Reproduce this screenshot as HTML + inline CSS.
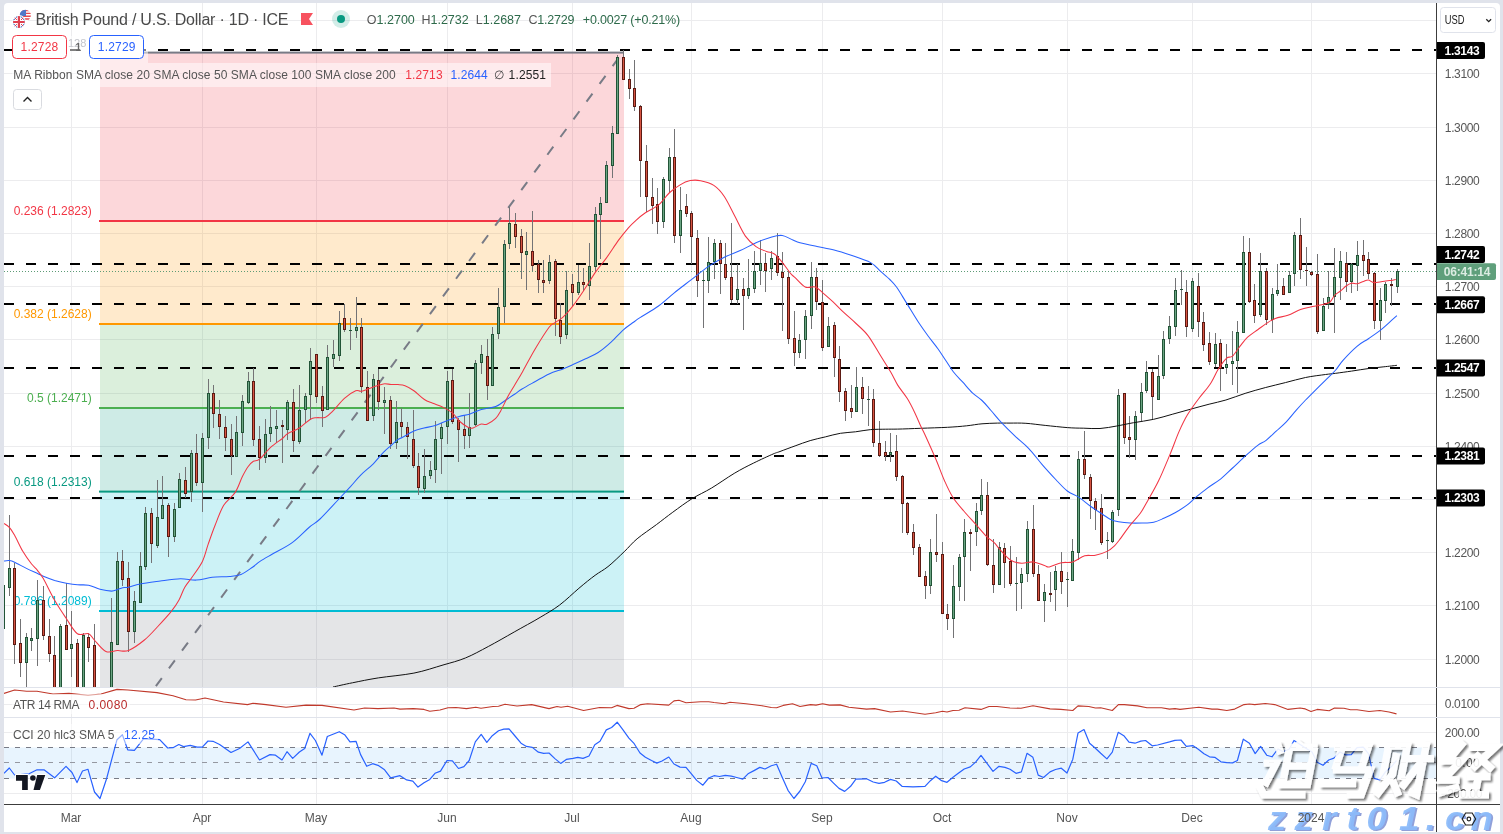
<!DOCTYPE html>
<html><head><meta charset="utf-8"><title>GBPUSD chart</title>
<style>
html,body{margin:0;padding:0;background:#e0e3eb;}
body{width:1503px;height:834px;overflow:hidden;position:relative;font-family:"Liberation Sans",sans-serif;}
#bg{position:absolute;left:4px;top:3px;width:1496px;height:829px;background:#fff;border-radius:4px 4px 0 0;}
</style></head><body>
<div id="bg"></div>
<svg width="1503" height="834" viewBox="0 0 1503 834" style="position:absolute;left:0;top:0;will-change:transform" shape-rendering="auto">
<defs>
<clipPath id="cm"><rect x="4" y="3" width="1432" height="684"/></clipPath>
<clipPath id="ca"><rect x="4" y="688" width="1432" height="29"/></clipPath>
<clipPath id="cc"><rect x="4" y="718" width="1432" height="86"/></clipPath>
<filter id="sh" x="-10%" y="-10%" width="130%" height="130%"><feGaussianBlur in="SourceAlpha" stdDeviation="1" result="b"/><feOffset in="b" dx="2" dy="2" result="o"/><feComponentTransfer in="o" result="o2"><feFuncA type="linear" slope="0.6"/></feComponentTransfer><feMerge><feMergeNode in="o2"/><feMergeNode in="SourceGraphic"/></feMerge></filter>
</defs>
<path d="M71.5 3V804M202.5 3V804M316.5 3V804M447.5 3V804M572.5 3V804M691.5 3V804M822.5 3V804M942.5 3V804M1067.5 3V804M1192.5 3V804M1311.5 3V804M4 659.5H1436M4 605.5H1436M4 552.5H1436M4 499.5H1436M4 446.5H1436M4 393.5H1436M4 339.5H1436M4 286.5H1436M4 233.5H1436M4 180.5H1436M4 127.5H1436M4 73.5H1436M4 20.5H1436M4 704.5H1436M4 732.5H1436M4 793.5H1436" stroke="#ececee" stroke-width="1" fill="none" shape-rendering="crispEdges"/>
<g clip-path="url(#cm)">
<rect x="100" y="52.5" width="524" height="168.5" fill="rgba(242,54,69,0.2)"/>
<rect x="100" y="221" width="524" height="103" fill="rgba(255,152,0,0.2)"/>
<rect x="100" y="324" width="524" height="84" fill="rgba(76,175,80,0.2)"/>
<rect x="100" y="408" width="524" height="83.5" fill="rgba(8,153,129,0.2)"/>
<rect x="100" y="491.5" width="524" height="119.5" fill="rgba(0,188,212,0.2)"/>
<rect x="100" y="611" width="524" height="153" fill="rgba(120,123,134,0.2)"/>
<rect x="99" y="51.6" width="525" height="2" fill="#787b86"/>
<rect x="99" y="220" width="525" height="2" fill="#f23645"/>
<rect x="99" y="323" width="525" height="2" fill="#ff9800"/>
<rect x="99" y="407" width="525" height="2" fill="#4caf50"/>
<rect x="99" y="490.6" width="525" height="2" fill="#089981"/>
<rect x="99" y="610" width="525" height="2" fill="#00bcd4"/>
<text x="91.7" y="215" font-size="12" fill="#f23645" text-anchor="end" style="font-family:'Liberation Sans',sans-serif">0.236 (1.2823)</text>
<text x="91.7" y="318" font-size="12" fill="#ff9800" text-anchor="end" style="font-family:'Liberation Sans',sans-serif">0.382 (1.2628)</text>
<text x="91.7" y="402" font-size="12" fill="#4caf50" text-anchor="end" style="font-family:'Liberation Sans',sans-serif">0.5 (1.2471)</text>
<text x="91.7" y="486" font-size="12" fill="#089981" text-anchor="end" style="font-family:'Liberation Sans',sans-serif">0.618 (1.2313)</text>
<text x="91.7" y="605.3" font-size="12" fill="#00bcd4" text-anchor="end" style="font-family:'Liberation Sans',sans-serif">0.786 (1.2089)</text>
<path d="M155.9 686.1L622.7 52.5" stroke="#787b86" stroke-width="2" stroke-dasharray="10 12" fill="none"/>
<path d="M4 271.5H1436" stroke="#5d9b76" stroke-width="1" stroke-dasharray="1 2" shape-rendering="crispEdges"/>
<path d="M4 50H1436" stroke="#000" stroke-width="2" stroke-dasharray="10 12" shape-rendering="crispEdges"/>
<path d="M4 264H1436" stroke="#000" stroke-width="2" stroke-dasharray="10 12" shape-rendering="crispEdges"/>
<path d="M4 304H1436" stroke="#000" stroke-width="2" stroke-dasharray="10 12" shape-rendering="crispEdges"/>
<path d="M4 368H1436" stroke="#000" stroke-width="2" stroke-dasharray="10 12" shape-rendering="crispEdges"/>
<path d="M4 456H1436" stroke="#000" stroke-width="2" stroke-dasharray="10 12" shape-rendering="crispEdges"/>
<path d="M4 498H1436" stroke="#000" stroke-width="2" stroke-dasharray="10 12" shape-rendering="crispEdges"/>
<path d="M9.5 515V568M9.5 588V596M14.5 563V568M14.5 645V664M20.5 619V643M20.5 663V677M26.5 633V637M26.5 663V695M31.5 628V638M31.5 641V651M37.5 580V600M37.5 639V666M43.5 586V600M43.5 636V640M49.5 619V636M49.5 654V662M54.5 636V655M60.5 624V626M66.5 583V625M71.5 611V644M71.5 649V677M77.5 639V643M83.5 633V635M88.5 633V637M88.5 648V662M94.5 624V645M111.5 598V642M117.5 552V561M122.5 550V561M122.5 580V586M128.5 562V578M128.5 632V652M134.5 591V601M134.5 632V643M140.5 552V566M145.5 507V513M145.5 567V570M151.5 508V513M151.5 544V563M157.5 480V517M157.5 546V548M162.5 476V505M168.5 503V505M168.5 537V557M174.5 503V509M174.5 537V542M179.5 473V479M185.5 467V480M185.5 494V498M191.5 450V453M191.5 492V502M196.5 434V453M196.5 483V486M202.5 433V438M202.5 483V512M208.5 379V393M208.5 438V449M213.5 385V393M213.5 414V428M219.5 400V414M219.5 427V439M225.5 416V427M225.5 438V451M231.5 424V439M231.5 456V475M236.5 416V432M242.5 395V401M242.5 433V446M248.5 372V381M248.5 403V404M253.5 368V381M253.5 440V446M259.5 426V439M259.5 458V470M265.5 419V434M265.5 458V463M270.5 406V427M270.5 434V442M276.5 410V426M276.5 429V443M282.5 420V425M282.5 427V463M287.5 400V402M287.5 430V440M293.5 389V402M293.5 441V452M299.5 385V410M299.5 442V444M305.5 393V396M305.5 410V423M310.5 348V361M310.5 395V420M316.5 397V403M322.5 386V396M322.5 411V427M327.5 345V357M333.5 340V354M333.5 359V367M339.5 311V323M339.5 356V361M344.5 304V318M344.5 330V332M350.5 318V330M350.5 331V350M356.5 297V327M356.5 331V338M361.5 318V327M361.5 387V393M367.5 371V387M373.5 374V379M373.5 416V421M378.5 369V380M378.5 402V410M384.5 387V400M384.5 403V434M390.5 396V400M390.5 444V449M396.5 401V422M396.5 443V449M401.5 408V422M401.5 427V437M407.5 422V427M407.5 437V459M413.5 410V439M413.5 466V468M418.5 453V466M418.5 488V495M424.5 449V476M424.5 489V493M430.5 461V470M430.5 476V479M435.5 421V439M435.5 470V483M441.5 423V427M441.5 439V474M447.5 371V381M447.5 427V444M452.5 369V380M452.5 422V424M458.5 418V420M458.5 430V462M464.5 415V429M464.5 436V449M469.5 393V427M469.5 436V448M475.5 360V363M475.5 425V426M481.5 345V354M481.5 363V374M487.5 339V356M487.5 386V400M492.5 327V334M498.5 288V307M498.5 334V339M504.5 240V244M504.5 307V323M509.5 207V223M509.5 244V249M515.5 213V224M515.5 237V248M521.5 229V236M521.5 253V279M526.5 232V251M526.5 255V290M532.5 211V251M532.5 266V271M538.5 260V264M538.5 280V293M543.5 260V280M543.5 283V293M549.5 255V262M549.5 281V284M555.5 259V261M555.5 319V336M560.5 303V320M560.5 337V344M566.5 271V290M566.5 335V339M572.5 274V284M572.5 293V307M578.5 265V282M578.5 293V295M583.5 268V282M583.5 285V291M589.5 243V266M589.5 286V300M595.5 207V214M595.5 267V271M600.5 197V203M600.5 215V259M606.5 161V165M612.5 126V133M612.5 166V178M617.5 55V57M623.5 50V57M629.5 69V79M629.5 89V99M634.5 60V88M634.5 107V111M640.5 105V106M640.5 161V197M646.5 145V161M646.5 197V212M652.5 178V197M652.5 206V224M657.5 188V204M657.5 222V234M663.5 177V179M663.5 222V228M669.5 148V157M669.5 181V193M674.5 129V157M674.5 236V243M680.5 187V210M680.5 236V253M686.5 194V206M686.5 214V217M691.5 211V213M691.5 237V264M697.5 230V238M697.5 281V297M703.5 272V280M703.5 281V328M708.5 237V262M708.5 281V293M714.5 239V243M714.5 262V279M720.5 240V243M720.5 264V294M725.5 243V264M725.5 278V280M731.5 223V277M731.5 300V303M737.5 264V289M737.5 300V304M743.5 278V289M743.5 296V330M748.5 259V288M748.5 296V299M754.5 251V271M754.5 289V293M760.5 240V263M760.5 271V285M765.5 253V263M765.5 271V292M771.5 251V258M771.5 269V280M777.5 233V256M777.5 273V276M782.5 252V272M782.5 278V331M788.5 271V277M788.5 339V344M794.5 311V338M794.5 353V366M799.5 334V340M799.5 353V358M805.5 310V316M805.5 340V359M811.5 262V277M811.5 316V329M816.5 268V277M816.5 302V310M822.5 280V302M822.5 348V351M828.5 317V326M834.5 322V325M834.5 358V377M839.5 346V359M839.5 392V402M845.5 388V391M845.5 411V421M851.5 385V408M851.5 412V418M856.5 367V387M862.5 377V387M862.5 399V414M868.5 386V399M868.5 400V426M873.5 389V399M873.5 443V447M879.5 421V443M879.5 456V457M885.5 441V452M885.5 456V461M890.5 433V452M890.5 455V462M896.5 435V451M896.5 477V481M902.5 475V476M902.5 504V533M907.5 502V503M907.5 533V535M913.5 524V532M913.5 548V555M919.5 544V547M925.5 571V576M925.5 586V599M930.5 539V552M930.5 586V594M936.5 514V552M936.5 555V562M942.5 542V554M947.5 604V614M947.5 619V630M953.5 565V586M953.5 619V638M959.5 554V557M959.5 587V601M964.5 519V532M964.5 557V601M970.5 529V532M970.5 534V571M976.5 503V511M976.5 532V546M981.5 479V495M981.5 511V515M987.5 482V495M987.5 565V566M993.5 539V565M993.5 585V593M999.5 542V547M1004.5 543V548M1004.5 563V588M1010.5 546V561M1010.5 584V586M1016.5 557V583M1016.5 584V611M1021.5 568V574M1021.5 583V609M1027.5 521V529M1027.5 574V582M1033.5 505V529M1033.5 574V577M1038.5 565V574M1044.5 584V592M1044.5 601V622M1050.5 572V593M1050.5 595V602M1055.5 566V571M1055.5 590V611M1061.5 552V571M1061.5 582V594M1067.5 572V579M1067.5 580V607M1072.5 539V551M1078.5 451V459M1078.5 553V560M1084.5 431V459M1084.5 475V479M1090.5 474V477M1090.5 501V519M1095.5 498V501M1095.5 510V530M1101.5 494V508M1101.5 543V545M1107.5 532V540M1107.5 541V559M1112.5 510V512M1112.5 542V543M1118.5 389V395M1118.5 510V516M1124.5 438V444M1129.5 416V437M1129.5 440V458M1135.5 411V416M1135.5 440V460M1141.5 383V392M1141.5 413V421M1146.5 361V372M1146.5 391V393M1152.5 369V372M1152.5 397V420M1158.5 355V376M1163.5 331V339M1163.5 376V379M1169.5 316V326M1169.5 339V344M1175.5 278V290M1175.5 327V336M1181.5 270V289M1181.5 290V305M1186.5 280V292M1186.5 327V337M1192.5 278V281M1192.5 329V332M1198.5 273V286M1198.5 322V337M1203.5 312V322M1203.5 345V351M1209.5 332V343M1209.5 362V365M1215.5 333V344M1215.5 364V367M1220.5 339V343M1220.5 369V391M1226.5 344V364M1226.5 368V374M1232.5 331V361M1232.5 364V385M1237.5 321V332M1237.5 361V393M1243.5 236V252M1249.5 238V252M1249.5 302V303M1254.5 284V300M1254.5 316V323M1260.5 253V271M1260.5 315V317M1266.5 268V271M1266.5 320V325M1272.5 288V294M1272.5 320V333M1277.5 264V290M1277.5 294V296M1283.5 278V286M1289.5 271V275M1294.5 232V235M1294.5 274V286M1300.5 218V235M1300.5 270V279M1306.5 247V270M1306.5 271V286M1311.5 271V272M1311.5 275V276M1317.5 254V274M1317.5 332V334M1323.5 298V306M1328.5 271V297M1328.5 305V309M1334.5 248V277M1334.5 297V333M1340.5 251V261M1340.5 278V300M1346.5 252V263M1346.5 282V292M1351.5 263V264M1351.5 282V293M1357.5 241V255M1357.5 266V291M1363.5 240V255M1363.5 261V276M1368.5 252V259M1368.5 274V279M1374.5 272V273M1374.5 321V329M1380.5 288V300M1380.5 321V340M1385.5 282V284M1385.5 301V313M1391.5 278V284M1391.5 286V306M1397.5 269V271M1397.5 287V293" stroke="#737375" stroke-width="1" fill="none" shape-rendering="crispEdges"/>
<path d="M2 585h3v44h-3zM8 568h3v20h-3zM25 637h3v26h-3zM30 638h3v3h-3zM36 600h3v39h-3zM59 626h3v74h-3zM70 644h3v5h-3zM82 635h3v65h-3zM110 642h3v58h-3zM116 561h3v84h-3zM133 601h3v31h-3zM139 566h3v37h-3zM144 513h3v54h-3zM156 517h3v29h-3zM161 505h3v14h-3zM173 509h3v28h-3zM178 479h3v29h-3zM190 453h3v39h-3zM201 438h3v45h-3zM207 393h3v45h-3zM235 432h3v25h-3zM241 401h3v32h-3zM247 381h3v22h-3zM264 434h3v24h-3zM269 427h3v7h-3zM275 426h3v3h-3zM286 402h3v28h-3zM298 410h3v32h-3zM304 396h3v14h-3zM309 361h3v34h-3zM326 357h3v53h-3zM332 354h3v5h-3zM338 323h3v33h-3zM349 330h3v1h-3zM355 327h3v4h-3zM372 379h3v37h-3zM383 400h3v3h-3zM395 422h3v21h-3zM423 476h3v13h-3zM429 470h3v6h-3zM434 439h3v31h-3zM440 427h3v12h-3zM446 381h3v46h-3zM468 427h3v9h-3zM474 363h3v62h-3zM480 354h3v9h-3zM491 334h3v52h-3zM497 307h3v27h-3zM503 244h3v63h-3zM508 223h3v21h-3zM525 251h3v4h-3zM548 262h3v19h-3zM565 290h3v45h-3zM577 282h3v11h-3zM588 266h3v20h-3zM594 214h3v53h-3zM599 203h3v12h-3zM605 165h3v38h-3zM611 133h3v33h-3zM616 57h3v77h-3zM662 179h3v43h-3zM668 157h3v24h-3zM679 210h3v26h-3zM702 280h3v1h-3zM707 262h3v19h-3zM713 243h3v19h-3zM736 289h3v11h-3zM747 288h3v8h-3zM753 271h3v18h-3zM759 263h3v8h-3zM770 258h3v11h-3zM798 340h3v13h-3zM804 316h3v24h-3zM810 277h3v39h-3zM827 326h3v21h-3zM855 387h3v25h-3zM867 399h3v1h-3zM889 452h3v3h-3zM929 552h3v34h-3zM952 586h3v33h-3zM958 557h3v30h-3zM963 532h3v25h-3zM975 511h3v21h-3zM980 495h3v16h-3zM998 547h3v38h-3zM1015 583h3v1h-3zM1020 574h3v9h-3zM1026 529h3v45h-3zM1043 592h3v9h-3zM1054 571h3v19h-3zM1066 579h3v1h-3zM1071 551h3v30h-3zM1077 459h3v94h-3zM1106 540h3v1h-3zM1111 512h3v30h-3zM1117 395h3v115h-3zM1134 416h3v24h-3zM1140 392h3v21h-3zM1145 372h3v19h-3zM1157 376h3v24h-3zM1162 339h3v37h-3zM1168 326h3v13h-3zM1174 290h3v37h-3zM1180 289h3v1h-3zM1191 281h3v48h-3zM1214 344h3v20h-3zM1225 364h3v4h-3zM1231 361h3v3h-3zM1236 332h3v29h-3zM1242 252h3v81h-3zM1259 271h3v44h-3zM1271 294h3v26h-3zM1276 290h3v4h-3zM1288 275h3v18h-3zM1293 235h3v39h-3zM1322 306h3v25h-3zM1327 297h3v8h-3zM1333 277h3v20h-3zM1339 261h3v17h-3zM1350 264h3v18h-3zM1356 255h3v11h-3zM1379 300h3v21h-3zM1384 284h3v17h-3zM1396 271h3v16h-3z" fill="#225437" shape-rendering="crispEdges"/>
<path d="M13 568h3v77h-3zM19 643h3v20h-3zM42 600h3v36h-3zM48 636h3v18h-3zM53 655h3v45h-3zM65 625h3v25h-3zM76 643h3v57h-3zM87 637h3v11h-3zM93 645h3v55h-3zM121 561h3v19h-3zM127 578h3v54h-3zM150 513h3v31h-3zM167 505h3v32h-3zM184 480h3v14h-3zM195 453h3v30h-3zM212 393h3v21h-3zM218 414h3v13h-3zM224 427h3v11h-3zM230 439h3v17h-3zM252 381h3v59h-3zM258 439h3v19h-3zM281 425h3v2h-3zM292 402h3v39h-3zM315 354h3v43h-3zM321 396h3v15h-3zM343 318h3v12h-3zM360 327h3v60h-3zM366 387h3v34h-3zM377 380h3v22h-3zM389 400h3v44h-3zM400 422h3v5h-3zM406 427h3v10h-3zM412 439h3v27h-3zM417 466h3v22h-3zM451 380h3v42h-3zM457 420h3v10h-3zM463 429h3v7h-3zM486 356h3v30h-3zM514 224h3v13h-3zM520 236h3v17h-3zM531 251h3v15h-3zM537 264h3v16h-3zM542 280h3v3h-3zM554 261h3v58h-3zM559 320h3v17h-3zM571 284h3v9h-3zM582 282h3v3h-3zM622 57h3v23h-3zM628 79h3v10h-3zM633 88h3v19h-3zM639 106h3v55h-3zM645 161h3v36h-3zM651 197h3v9h-3zM656 204h3v18h-3zM673 157h3v79h-3zM685 206h3v8h-3zM690 213h3v24h-3zM696 238h3v43h-3zM719 243h3v21h-3zM724 264h3v14h-3zM730 277h3v23h-3zM742 289h3v7h-3zM764 263h3v8h-3zM776 256h3v17h-3zM781 272h3v6h-3zM787 277h3v62h-3zM793 338h3v15h-3zM815 277h3v25h-3zM821 302h3v46h-3zM833 325h3v33h-3zM838 359h3v33h-3zM844 391h3v20h-3zM850 408h3v4h-3zM861 387h3v12h-3zM872 399h3v44h-3zM878 443h3v13h-3zM884 452h3v4h-3zM895 451h3v26h-3zM901 476h3v28h-3zM906 503h3v30h-3zM912 532h3v16h-3zM918 547h3v30h-3zM924 576h3v10h-3zM935 552h3v3h-3zM941 554h3v60h-3zM946 614h3v5h-3zM969 532h3v2h-3zM986 495h3v70h-3zM992 565h3v20h-3zM1003 548h3v15h-3zM1009 561h3v23h-3zM1032 529h3v45h-3zM1037 574h3v27h-3zM1049 593h3v2h-3zM1060 571h3v11h-3zM1083 459h3v16h-3zM1089 477h3v24h-3zM1094 501h3v9h-3zM1100 508h3v35h-3zM1123 393h3v45h-3zM1128 437h3v3h-3zM1151 372h3v25h-3zM1185 292h3v35h-3zM1197 286h3v36h-3zM1202 322h3v23h-3zM1208 343h3v19h-3zM1219 343h3v26h-3zM1248 252h3v50h-3zM1253 300h3v16h-3zM1265 271h3v49h-3zM1282 286h3v9h-3zM1299 235h3v35h-3zM1305 270h3v1h-3zM1310 272h3v3h-3zM1316 274h3v58h-3zM1345 263h3v19h-3zM1362 255h3v6h-3zM1367 259h3v15h-3zM1373 273h3v48h-3zM1390 284h3v2h-3z" fill="#5b1a13" shape-rendering="crispEdges"/>
<path d="M3 586h1v42h-1zM9 569h1v18h-1zM26 638h1v24h-1zM31 639h1v1h-1zM37 601h1v37h-1zM60 627h1v72h-1zM71 645h1v3h-1zM83 636h1v63h-1zM111 643h1v56h-1zM117 562h1v82h-1zM134 602h1v29h-1zM140 567h1v35h-1zM145 514h1v52h-1zM157 518h1v27h-1zM162 506h1v12h-1zM174 510h1v26h-1zM179 480h1v27h-1zM191 454h1v37h-1zM202 439h1v43h-1zM208 394h1v43h-1zM236 433h1v23h-1zM242 402h1v30h-1zM248 382h1v20h-1zM265 435h1v22h-1zM270 428h1v5h-1zM276 427h1v1h-1zM287 403h1v26h-1zM299 411h1v30h-1zM305 397h1v12h-1zM310 362h1v32h-1zM327 358h1v51h-1zM333 355h1v3h-1zM339 324h1v31h-1zM356 328h1v2h-1zM373 380h1v35h-1zM384 401h1v1h-1zM396 423h1v19h-1zM424 477h1v11h-1zM430 471h1v4h-1zM435 440h1v29h-1zM441 428h1v10h-1zM447 382h1v44h-1zM469 428h1v7h-1zM475 364h1v60h-1zM481 355h1v7h-1zM492 335h1v50h-1zM498 308h1v25h-1zM504 245h1v61h-1zM509 224h1v19h-1zM526 252h1v2h-1zM549 263h1v17h-1zM566 291h1v43h-1zM578 283h1v9h-1zM589 267h1v18h-1zM595 215h1v51h-1zM600 204h1v10h-1zM606 166h1v36h-1zM612 134h1v31h-1zM617 58h1v75h-1zM663 180h1v41h-1zM669 158h1v22h-1zM680 211h1v24h-1zM708 263h1v17h-1zM714 244h1v17h-1zM737 290h1v9h-1zM748 289h1v6h-1zM754 272h1v16h-1zM760 264h1v6h-1zM771 259h1v9h-1zM799 341h1v11h-1zM805 317h1v22h-1zM811 278h1v37h-1zM828 327h1v19h-1zM856 388h1v23h-1zM890 453h1v1h-1zM930 553h1v32h-1zM953 587h1v31h-1zM959 558h1v28h-1zM964 533h1v23h-1zM976 512h1v19h-1zM981 496h1v14h-1zM999 548h1v36h-1zM1021 575h1v7h-1zM1027 530h1v43h-1zM1044 593h1v7h-1zM1055 572h1v17h-1zM1072 552h1v28h-1zM1078 460h1v92h-1zM1112 513h1v28h-1zM1118 396h1v113h-1zM1135 417h1v22h-1zM1141 393h1v19h-1zM1146 373h1v17h-1zM1158 377h1v22h-1zM1163 340h1v35h-1zM1169 327h1v11h-1zM1175 291h1v35h-1zM1192 282h1v46h-1zM1215 345h1v18h-1zM1226 365h1v2h-1zM1232 362h1v1h-1zM1237 333h1v27h-1zM1243 253h1v79h-1zM1260 272h1v42h-1zM1272 295h1v24h-1zM1277 291h1v2h-1zM1289 276h1v16h-1zM1294 236h1v37h-1zM1323 307h1v23h-1zM1328 298h1v6h-1zM1334 278h1v18h-1zM1340 262h1v15h-1zM1351 265h1v16h-1zM1357 256h1v9h-1zM1380 301h1v19h-1zM1385 285h1v15h-1zM1397 272h1v14h-1z" fill="#6ba583" shape-rendering="crispEdges"/>
<path d="M14 569h1v75h-1zM20 644h1v18h-1zM43 601h1v34h-1zM49 637h1v16h-1zM54 656h1v43h-1zM66 626h1v23h-1zM77 644h1v55h-1zM88 638h1v9h-1zM94 646h1v53h-1zM122 562h1v17h-1zM128 579h1v52h-1zM151 514h1v29h-1zM168 506h1v30h-1zM185 481h1v12h-1zM196 454h1v28h-1zM213 394h1v19h-1zM219 415h1v11h-1zM225 428h1v9h-1zM231 440h1v15h-1zM253 382h1v57h-1zM259 440h1v17h-1zM293 403h1v37h-1zM316 355h1v41h-1zM322 397h1v13h-1zM344 319h1v10h-1zM361 328h1v58h-1zM367 388h1v32h-1zM378 381h1v20h-1zM390 401h1v42h-1zM401 423h1v3h-1zM407 428h1v8h-1zM413 440h1v25h-1zM418 467h1v20h-1zM452 381h1v40h-1zM458 421h1v8h-1zM464 430h1v5h-1zM487 357h1v28h-1zM515 225h1v11h-1zM521 237h1v15h-1zM532 252h1v13h-1zM538 265h1v14h-1zM543 281h1v1h-1zM555 262h1v56h-1zM560 321h1v15h-1zM572 285h1v7h-1zM583 283h1v1h-1zM623 58h1v21h-1zM629 80h1v8h-1zM634 89h1v17h-1zM640 107h1v53h-1zM646 162h1v34h-1zM652 198h1v7h-1zM657 205h1v16h-1zM674 158h1v77h-1zM686 207h1v6h-1zM691 214h1v22h-1zM697 239h1v41h-1zM720 244h1v19h-1zM725 265h1v12h-1zM731 278h1v21h-1zM743 290h1v5h-1zM765 264h1v6h-1zM777 257h1v15h-1zM782 273h1v4h-1zM788 278h1v60h-1zM794 339h1v13h-1zM816 278h1v23h-1zM822 303h1v44h-1zM834 326h1v31h-1zM839 360h1v31h-1zM845 392h1v18h-1zM851 409h1v2h-1zM862 388h1v10h-1zM873 400h1v42h-1zM879 444h1v11h-1zM885 453h1v2h-1zM896 452h1v24h-1zM902 477h1v26h-1zM907 504h1v28h-1zM913 533h1v14h-1zM919 548h1v28h-1zM925 577h1v8h-1zM936 553h1v1h-1zM942 555h1v58h-1zM947 615h1v3h-1zM987 496h1v68h-1zM993 566h1v18h-1zM1004 549h1v13h-1zM1010 562h1v21h-1zM1033 530h1v43h-1zM1038 575h1v25h-1zM1061 572h1v9h-1zM1084 460h1v14h-1zM1090 478h1v22h-1zM1095 502h1v7h-1zM1101 509h1v33h-1zM1124 394h1v43h-1zM1129 438h1v1h-1zM1152 373h1v23h-1zM1186 293h1v33h-1zM1198 287h1v34h-1zM1203 323h1v21h-1zM1209 344h1v17h-1zM1220 344h1v24h-1zM1249 253h1v48h-1zM1254 301h1v14h-1zM1266 272h1v47h-1zM1283 287h1v7h-1zM1300 236h1v33h-1zM1311 273h1v1h-1zM1317 275h1v56h-1zM1346 264h1v17h-1zM1363 256h1v4h-1zM1368 260h1v13h-1zM1374 274h1v46h-1z" fill="#d75442" shape-rendering="crispEdges"/>
<path d="M333.0 687.0C336.2 686.3 344.8 684.3 352.4 682.8C359.9 681.3 368.1 679.5 378.3 677.9C388.6 676.3 403.1 675.2 413.9 673.1C424.7 671.0 434.4 667.5 443.0 665.0C451.6 662.5 458.1 661.0 465.6 657.9C473.2 654.8 480.2 650.8 488.3 646.5C496.4 642.2 505.6 636.9 514.2 632.0C522.8 627.1 532.6 621.9 540.1 617.4C547.6 612.9 553.0 610.0 559.5 605.1C566.0 600.2 573.0 593.3 578.9 588.3C584.8 583.3 590.2 578.9 595.1 575.3C600.0 571.7 603.1 570.5 608.0 566.6C612.9 562.7 619.4 556.3 624.2 551.7C629.1 547.1 631.7 543.3 637.1 538.8C642.5 534.3 650.7 528.9 656.6 524.5C662.5 520.1 666.9 516.5 672.8 512.2C678.7 507.9 685.7 502.6 692.2 498.6C698.7 494.6 704.6 492.2 711.6 488.0C718.6 483.8 727.2 477.6 734.2 473.4C741.2 469.2 747.2 466.2 753.7 463.0C760.2 459.8 768.7 455.9 773.1 454.0C777.5 452.1 776.3 452.9 780.0 451.5C783.7 450.1 790.1 447.7 795.1 445.9C800.1 444.1 805.2 442.1 810.2 440.6C815.2 439.1 820.3 438.1 825.3 436.9C830.3 435.7 835.4 434.1 840.4 433.3C845.4 432.5 850.5 432.4 855.5 431.8C860.5 431.2 865.6 430.0 870.6 429.6C875.6 429.2 881.2 429.3 885.7 429.2C890.2 429.1 891.8 429.2 897.6 429.1C903.4 429.0 912.4 428.6 920.7 428.3C929.0 428.0 939.8 427.7 947.5 427.3C955.2 426.9 961.0 426.4 966.7 425.8C972.5 425.2 976.9 424.2 982.0 423.8C987.1 423.4 992.6 423.2 997.3 423.1C1002.0 423.0 1005.2 423.1 1010.0 423.1C1014.8 423.1 1020.0 422.9 1025.9 423.3C1031.8 423.7 1038.3 424.7 1045.2 425.4C1052.1 426.1 1060.9 427.1 1067.3 427.6C1073.7 428.1 1078.3 428.1 1083.8 428.2C1089.2 428.3 1094.5 428.9 1100.0 428.5C1105.5 428.1 1111.2 427.0 1116.8 426.0C1122.4 425.0 1127.4 423.8 1133.6 422.7C1139.8 421.6 1147.3 420.7 1153.7 419.3C1160.1 417.9 1166.1 416.0 1172.2 414.3C1178.3 412.6 1184.4 410.9 1190.6 409.2C1196.8 407.5 1203.2 405.7 1209.1 404.2C1215.0 402.7 1219.9 401.8 1225.9 400.0C1231.9 398.2 1238.5 395.5 1245.1 393.4C1251.7 391.3 1258.6 389.4 1265.3 387.6C1272.0 385.8 1278.7 384.3 1285.4 382.6C1292.1 380.9 1298.8 378.9 1305.5 377.5C1312.2 376.1 1320.6 375.2 1325.6 374.5C1330.6 373.8 1331.4 373.9 1335.7 373.3C1340.0 372.7 1346.1 371.9 1351.6 371.1C1357.1 370.3 1363.4 369.2 1368.8 368.5C1374.2 367.8 1379.2 367.3 1383.9 366.8C1388.6 366.3 1394.7 365.6 1396.9 365.3" stroke="#111" stroke-width="1" fill="none" stroke-linejoin="round"/>
<path d="M4.0 561.0C4.9 560.9 7.5 560.4 9.3 560.6C11.1 560.8 11.8 560.9 14.6 562.2C17.4 563.5 22.6 566.5 26.4 568.4C30.2 570.3 34.8 572.1 37.6 573.4C40.4 574.7 40.5 575.1 43.3 576.3C46.1 577.5 50.8 579.2 54.6 580.4C58.4 581.5 62.5 582.5 66.3 583.2C70.1 583.9 73.7 584.5 77.4 584.8C81.1 585.1 84.8 584.5 88.6 585.2C92.4 586.0 96.2 588.3 100.0 589.3C103.8 590.3 108.7 591.1 111.6 591.1C114.5 591.1 115.7 590.1 117.5 589.5C119.3 588.9 120.9 588.1 122.7 587.7C124.5 587.3 125.7 587.9 128.6 587.3C131.5 586.7 134.9 584.9 140.2 583.9C145.5 582.9 153.6 581.9 160.3 581.0C167.0 580.1 174.5 578.9 180.5 578.7C186.5 578.6 191.0 580.3 196.3 580.1C201.6 579.9 206.7 577.9 212.2 577.3C217.7 576.7 224.7 576.9 229.5 576.4C234.3 575.9 237.2 575.9 241.0 574.4C244.8 572.9 249.3 569.4 252.5 567.2C255.7 565.0 256.8 563.5 260.0 561.4C263.2 559.2 266.6 557.4 272.0 554.3C277.4 551.2 286.0 547.1 292.2 542.6C298.4 538.1 304.4 531.4 309.0 527.5C313.6 523.6 315.2 523.6 320.0 519.0C324.8 514.4 332.9 505.4 338.0 500.0C343.1 494.6 346.9 490.5 350.7 486.4C354.5 482.2 356.9 478.9 360.7 475.1C364.5 471.3 369.5 467.6 373.3 463.8C377.1 460.0 380.4 455.4 383.4 452.4C386.3 449.4 388.7 447.6 391.0 445.6C393.3 443.6 395.1 441.6 397.0 440.2C398.9 438.8 399.8 438.8 402.6 437.3C405.4 435.8 410.3 432.6 413.9 431.0C417.5 429.4 420.4 428.9 424.0 428.0C427.6 427.1 431.4 426.8 435.3 425.5C439.2 424.2 443.4 421.9 447.4 420.4C451.4 418.9 455.5 417.4 459.2 416.4C462.9 415.4 465.8 415.3 469.5 414.2C473.2 413.1 476.9 410.9 481.3 409.6C485.7 408.3 491.6 408.2 495.7 406.6C499.8 405.0 502.6 402.1 505.8 400.0C509.0 397.9 512.3 395.8 515.0 394.0C517.7 392.2 518.6 391.1 522.0 389.0C525.4 386.9 530.8 384.0 535.3 381.5C539.8 379.0 544.5 376.0 549.1 373.9C553.7 371.8 559.0 370.4 563.0 368.9C567.0 367.3 569.2 366.3 573.0 364.6C576.8 362.9 581.4 360.8 585.6 358.8C589.8 356.8 594.0 355.2 598.2 352.5C602.4 349.8 606.6 346.2 610.8 342.4C615.0 338.6 619.6 333.1 623.4 329.8C627.2 326.5 630.7 324.3 633.5 322.3C636.3 320.3 635.8 320.3 640.0 317.6C644.2 314.9 652.8 310.1 658.5 306.0C664.2 301.9 668.8 297.2 674.3 292.8C679.8 288.4 685.7 284.0 691.4 279.6C697.1 275.2 703.0 270.1 708.5 266.4C714.0 262.7 719.0 259.8 724.3 257.2C729.6 254.6 734.9 253.0 740.2 250.6C745.5 248.2 750.7 245.0 756.0 242.7C761.3 240.4 767.4 238.1 771.8 236.9C776.2 235.7 778.8 235.0 782.3 235.5C785.8 236.0 789.9 238.8 792.9 240.0C795.9 241.2 796.0 241.6 800.0 242.7C804.0 243.8 811.3 245.3 817.0 246.5C822.7 247.7 828.5 248.6 834.1 250.0C839.7 251.4 844.3 252.9 850.4 255.0C856.5 257.1 865.6 259.9 870.6 262.6C875.6 265.3 877.3 268.5 880.6 271.4C883.9 274.3 887.6 277.4 890.3 280.0C893.0 282.6 894.0 283.5 896.7 287.3C899.4 291.1 902.6 296.7 906.3 302.6C910.0 308.5 915.1 317.2 918.8 322.8C922.5 328.4 925.1 331.9 928.3 336.2C931.5 340.5 935.0 344.7 937.9 348.7C940.8 352.7 943.0 356.4 945.6 360.2C948.2 364.0 950.4 368.0 953.3 371.7C956.2 375.4 959.6 378.7 962.8 382.2C966.0 385.7 969.2 389.8 972.4 392.8C975.6 395.9 978.9 397.6 982.0 400.5C985.1 403.4 987.8 406.9 991.0 410.5C994.2 414.1 997.0 417.9 1001.0 422.1C1005.0 426.3 1010.2 431.5 1014.8 435.9C1019.4 440.3 1024.0 443.5 1028.6 448.3C1033.2 453.1 1037.8 459.5 1042.4 464.8C1047.0 470.1 1052.1 475.6 1056.2 480.0C1060.3 484.4 1063.6 488.1 1067.3 491.0C1071.0 493.9 1074.7 494.6 1078.6 497.1C1082.5 499.6 1086.5 503.3 1090.5 506.2C1094.5 509.1 1099.2 512.0 1102.5 514.2C1105.8 516.4 1107.4 518.0 1110.1 519.2C1112.8 520.5 1115.2 521.1 1118.5 521.7C1121.8 522.3 1126.3 522.8 1130.2 523.0C1134.1 523.2 1138.1 523.1 1142.0 523.0C1145.9 522.9 1150.1 523.0 1153.7 522.2C1157.3 521.4 1160.2 519.9 1163.8 518.3C1167.4 516.7 1171.6 514.7 1175.5 512.5C1179.4 510.3 1183.9 507.4 1187.3 504.9C1190.7 502.4 1192.3 500.2 1195.7 497.4C1199.1 494.6 1203.2 491.2 1207.4 488.1C1211.6 485.0 1216.6 482.2 1220.8 478.9C1225.0 475.5 1228.4 471.9 1232.6 468.0C1236.8 464.1 1241.8 459.2 1246.0 455.4C1250.2 451.6 1254.4 447.8 1257.7 445.3C1261.0 442.8 1263.0 442.7 1266.1 440.3C1269.2 437.9 1272.8 434.2 1276.2 431.1C1279.6 428.0 1283.0 425.3 1286.3 421.8C1289.6 418.3 1293.1 413.7 1296.3 410.1C1299.5 406.5 1303.2 402.5 1305.6 400.0C1308.0 397.5 1307.2 398.5 1310.5 395.2C1313.8 391.9 1321.4 384.3 1325.6 380.1C1329.8 375.9 1332.8 373.3 1335.7 370.0C1338.6 366.7 1339.5 364.2 1343.0 360.3C1346.5 356.4 1352.8 349.9 1357.0 346.3C1361.2 342.7 1364.5 341.4 1368.4 338.7C1372.3 336.0 1376.7 333.2 1380.5 330.1C1384.3 327.1 1388.8 322.8 1391.5 320.4C1394.2 318.0 1396.0 316.4 1396.9 315.6" stroke="#2962ff" stroke-width="1.05" fill="none" stroke-linejoin="round"/>
<path d="M4.0 523.5C4.9 524.1 7.5 525.3 9.3 527.3C11.1 529.3 12.3 531.3 14.6 535.3C16.9 539.3 20.0 546.5 22.8 551.3C25.6 556.0 28.9 560.6 31.4 563.8C33.9 567.0 35.6 568.1 37.6 570.6C39.6 573.1 40.5 573.7 43.3 578.6C46.1 583.5 50.8 593.6 54.6 600.3C58.4 606.9 62.5 612.9 66.3 618.5C70.1 624.1 73.7 631.2 77.4 633.7C81.1 636.2 85.8 632.7 88.6 633.7C91.4 634.8 91.4 637.0 94.3 640.0C97.2 643.0 102.0 649.7 105.9 651.5C109.8 653.3 113.7 650.8 117.5 650.6C121.3 650.4 124.1 652.2 128.6 650.4C133.1 648.6 139.5 644.0 144.4 640.0C149.3 636.0 153.3 631.3 157.8 626.5C162.3 621.7 167.8 615.8 171.3 611.4C174.8 607.0 176.8 604.0 179.0 600.0C181.2 596.0 182.6 591.1 184.8 587.3C187.0 583.5 189.1 581.6 192.0 577.3C194.9 573.0 199.7 566.9 202.4 561.4C205.1 555.9 206.1 550.2 208.2 544.2C210.3 538.2 212.4 532.0 215.0 525.5C217.6 519.0 220.3 510.8 223.7 505.3C227.1 499.8 232.1 497.2 235.2 492.4C238.3 487.6 240.2 480.8 242.4 476.5C244.6 472.2 246.4 469.0 248.2 466.5C250.0 464.0 251.5 462.5 253.4 461.3C255.3 460.1 256.7 461.5 259.6 459.2C262.5 456.9 266.8 450.8 270.6 447.4C274.4 444.0 279.3 440.9 282.2 438.6C285.1 436.3 284.9 435.3 287.8 433.5C290.7 431.7 295.5 430.4 299.3 428.0C303.1 425.6 307.5 420.9 310.4 419.2C313.3 417.5 314.2 418.0 316.7 417.7C319.2 417.4 322.8 418.3 325.5 417.2C328.2 416.1 329.9 414.0 333.0 410.9C336.1 407.8 340.6 401.7 344.4 398.3C348.2 394.9 352.8 391.9 355.7 390.7C358.6 389.5 358.6 391.8 361.5 391.2C364.4 390.6 369.7 388.2 373.3 387.0C376.9 385.8 380.4 384.3 383.4 383.9C386.3 383.5 388.6 384.3 391.0 384.4C393.4 384.5 395.7 384.4 398.0 384.6C400.3 384.8 402.4 384.7 405.0 385.7C407.6 386.7 410.7 388.4 413.9 390.7C417.1 393.0 421.2 397.4 424.4 399.5C427.5 401.6 429.7 402.0 432.8 403.3C435.9 404.6 439.5 405.4 442.8 407.1C446.1 408.8 450.2 411.1 452.9 413.4C455.6 415.7 456.7 418.7 459.2 421.0C461.7 423.3 465.7 426.0 468.0 427.2C470.3 428.4 470.9 428.5 473.0 428.0C475.1 427.5 478.3 424.8 480.6 424.2C482.9 423.6 484.4 425.2 486.9 424.2C489.4 423.2 493.4 420.6 495.7 418.4C498.0 416.2 498.6 414.7 500.7 410.9C502.8 407.1 505.9 400.2 508.3 395.8C510.7 391.4 512.6 388.7 515.0 384.6C517.4 380.5 519.3 377.4 522.7 371.4C526.1 365.4 530.9 356.0 535.3 348.7C539.7 341.4 545.8 331.7 549.1 327.3C552.5 322.9 553.1 324.0 555.4 322.3C557.7 320.6 560.1 319.9 563.0 317.2C565.9 314.5 569.6 310.3 573.0 305.9C576.4 301.5 579.8 296.5 583.6 290.8C587.4 285.1 591.9 277.3 595.7 271.9C599.5 266.4 602.5 263.4 606.3 258.1C610.1 252.9 614.7 245.5 618.4 240.4C622.1 235.3 625.5 231.2 628.4 227.8C631.3 224.5 633.2 222.8 636.0 220.3C638.8 217.8 641.6 215.4 645.4 212.8C649.2 210.2 654.6 208.2 658.6 204.9C662.6 201.6 665.7 196.3 669.2 193.0C672.7 189.7 676.2 187.2 679.7 185.1C683.2 183.0 686.7 181.3 690.2 180.6C693.7 179.9 696.7 179.9 700.6 180.7C704.5 181.5 709.8 182.8 713.8 185.4C717.8 188.0 720.8 191.3 724.3 196.5C727.8 201.7 731.4 209.7 734.9 216.3C738.4 222.9 741.9 231.1 745.4 236.1C748.9 241.1 752.5 244.0 756.0 246.6C759.5 249.2 763.4 250.2 766.5 251.4C769.6 252.6 771.8 252.2 774.4 254.0C777.0 255.8 779.7 259.2 782.3 262.4C784.9 265.6 788.1 270.4 790.2 273.0C792.3 275.6 792.6 275.4 795.1 277.7C797.6 280.0 801.9 285.4 805.2 287.0C808.6 288.6 812.3 286.0 815.2 287.0C818.1 288.0 819.9 290.4 822.8 292.8C825.7 295.2 829.4 298.5 832.8 301.6C836.1 304.8 839.1 308.1 842.9 311.7C846.7 315.3 851.3 319.0 855.5 323.0C859.7 327.0 863.8 330.1 868.0 335.6C872.2 341.1 876.8 349.7 880.6 355.8C884.4 361.9 887.9 367.1 890.7 372.0C893.6 376.9 894.9 380.7 897.7 385.1C900.5 389.5 904.4 393.9 907.3 398.5C910.2 403.1 912.7 408.3 914.9 412.9C917.1 417.5 919.0 422.3 920.7 426.0C922.4 429.7 922.6 429.5 925.2 435.2C927.8 440.9 933.0 452.4 936.2 460.0C939.4 467.6 941.7 474.5 944.5 480.7C947.3 486.9 949.6 492.1 952.8 497.2C956.0 502.2 960.1 506.6 963.8 511.0C967.5 515.4 971.2 519.3 974.9 523.4C978.6 527.5 982.7 532.6 985.9 535.8C989.1 539.0 992.0 540.5 994.2 542.7C996.5 544.9 996.7 546.0 999.4 548.9C1002.1 551.8 1006.7 557.6 1010.4 560.0C1014.1 562.4 1017.7 563.0 1021.5 563.3C1025.3 563.6 1029.5 561.5 1033.3 561.9C1037.1 562.3 1041.7 564.7 1044.4 565.5C1047.1 566.3 1046.5 567.4 1049.3 566.9C1052.1 566.4 1057.6 563.5 1061.5 562.7C1065.4 561.9 1068.9 563.0 1072.8 561.9C1076.7 560.8 1080.9 556.9 1084.7 555.8C1088.5 554.7 1091.6 556.1 1095.4 555.3C1099.2 554.5 1104.5 552.6 1107.6 551.1C1110.7 549.6 1112.2 548.1 1114.2 546.2C1116.2 544.3 1116.8 543.3 1119.5 539.8C1122.2 536.3 1126.7 529.5 1130.2 525.1C1133.7 520.7 1137.2 517.6 1140.3 513.3C1143.4 508.9 1145.6 504.4 1148.7 499.0C1151.8 493.6 1155.2 487.9 1158.7 480.6C1162.2 473.3 1166.2 463.5 1169.6 455.4C1173.0 447.3 1176.0 438.6 1178.9 431.9C1181.9 425.2 1184.0 420.6 1187.3 415.1C1190.6 409.6 1194.7 404.1 1198.5 399.0C1202.3 393.9 1206.6 389.4 1209.9 384.5C1213.2 379.6 1215.5 373.7 1218.2 369.3C1221.0 364.9 1224.0 360.5 1226.4 358.3C1228.8 356.1 1230.2 358.1 1232.5 356.1C1234.8 354.1 1237.6 349.2 1240.1 346.1C1242.6 343.0 1244.7 339.9 1247.6 337.2C1250.5 334.5 1254.5 332.0 1257.7 329.7C1260.9 327.4 1263.6 325.3 1266.5 323.4C1269.4 321.5 1271.7 319.8 1275.3 318.4C1278.9 317.0 1283.7 316.8 1287.9 315.3C1292.1 313.8 1296.7 310.9 1300.5 309.5C1304.3 308.1 1306.7 307.8 1310.5 307.0C1314.3 306.2 1319.8 305.3 1323.1 304.5C1326.3 303.7 1328.1 303.5 1330.0 302.0C1331.9 300.5 1332.8 297.3 1334.5 295.5C1336.2 293.7 1338.4 292.6 1340.4 291.0C1342.4 289.4 1344.6 287.1 1346.4 285.8C1348.2 284.5 1349.6 283.6 1351.4 283.2C1353.2 282.8 1355.4 284.0 1357.4 283.7C1359.4 283.4 1361.6 282.1 1363.4 281.5C1365.2 280.9 1366.6 279.8 1368.4 280.0C1370.2 280.2 1371.5 282.5 1374.4 282.6C1377.3 282.8 1382.9 281.3 1385.7 280.9C1388.5 280.5 1389.8 280.6 1391.5 280.4C1393.2 280.1 1395.1 279.6 1395.8 279.4" stroke="#f23645" stroke-width="1.05" fill="none" stroke-linejoin="round"/>
</g>
<g clip-path="url(#ca)">
<path d="M4 693.4L14.6 690L26.6 691.3L37 691.3L53 694L69 693.4L88 695.3L101 694L117 689.4L128 690L157 692.6L173 695.8L186 699.8L195.6 700L205 698L223.5 702L247.5 704.6L253 703.3L266 704.6L286 707.3L306 705.1L322 705.4L354 710L364.6 708L378 708.6L394 708L400 709.1L413.3 708.6L424 709.4L429.8 711.3L440 710L448 707.8L456 707.5L466.5 708.6L475.8 707.3L481 708.3L493 706.5L498.5 706.2L505 704.3L517 706L531.7 704.6L549 708.6L557 706.5L561 707.3L567.7 706.2L583.6 710.5L599.6 707.5L611.6 707.8L617 705.4L628.9 708.6L634 708.3L640.8 704.6L647.5 703.8L668.8 705.1L674 700.9L679 700.3L686 702.7L700.7 701.7L708.7 701.7L714 702.5L724.7 703.8L730 702.2L738 703L746 703.8L762 705.7L771.3 707.5L776.6 707.8L783.2 705.4L792.5 703.8L800 706.5L810.6 704.6L816 705.1L822.6 703.8L829.3 705.1L840 704.9L849 707.3L866.5 709.1L874.5 708.6L890.5 712L902.5 711L925 714.2L935.7 712.8L942.4 711.3L947 712L953 710.5L959 710.2L965 707.8L981 709.4L989 706.5L997 706.5L1010 708L1021 708.3L1033 705.7L1050 708.9L1060.8 709.4L1072.8 710.5L1078 705.9L1088.8 706.5L1095.4 708L1100.7 707.8L1112.3 710.5L1118.4 704.6L1124.3 704.6L1137.6 705.9L1147 707.8L1161.5 707.8L1169.5 709.1L1175 708.6L1180 709.4L1192 708L1198.8 707.3L1212 709.1L1217.4 709.1L1226.8 710.5L1234.7 709.1L1244 704.6L1249.4 704L1254.7 704.6L1265.3 703.5L1274.7 704.6L1288 709.4L1300 708L1305.3 708.9L1311 711.5L1317.2 709.4L1329.2 710.7L1334.5 708L1343.9 708.3L1350.5 709.7L1357 709.7L1369 711.5L1379.8 710.5L1389 712L1396.5 713.9" stroke="#c0392b" stroke-width="1.1" fill="none" stroke-linejoin="round"/>
</g>
<g clip-path="url(#cc)">
<rect x="4" y="747.5" width="1432" height="31" fill="rgba(33,150,243,0.1)"/>
<path d="M4 747.5H1436" stroke="#787b86" stroke-width="1" stroke-dasharray="5 6" shape-rendering="crispEdges"/>
<path d="M4 762.5H1436" stroke="#9598a1" stroke-width="1" stroke-dasharray="5 6" shape-rendering="crispEdges"/>
<path d="M4 778.5H1436" stroke="#787b86" stroke-width="1" stroke-dasharray="5 6" shape-rendering="crispEdges"/>
<path d="M4 773.3L9.3 768L14.6 775L29 773.8L37 769.8L44 769.8L54.6 777.8L66 766.3L72 772.5L77 782.6L82.5 771L88 769.3L94.5 792L100 798.5L106.5 779L117 739.7L122.4 734.7L127.7 749.8L134.4 750.4L143.7 738.7L159.7 739.7L167.7 748L173 747.7L178.8 744.5L183.6 746.6L190.3 745.3L197 747.2L202.3 747.2L208 741L213 741.3L219.6 744.5L231 752.5L239.5 748.5L248 741.9L259.5 760L270 754.6L275.5 755.2L282 760L287 751.7L292.7 758.4L299.4 752L304.7 748.5L310 733.3L315.4 740.5L322 755.2L327.3 736.5L339.3 731.7L344.6 734.7L350 741.9L356 741.3L360.6 754.6L366.7 766.3L372.6 763.7L378 765.3L384.6 769.8L390.7 777.8L400 775.7L406.7 779.9L412.8 781.2L418 787.1L424 782.8L429.8 779.4L435 773.3L440.5 771.1L447 760.5L452.4 760.8L458.5 768.5L463.9 766.6L469.2 760.5L475.3 741.9L481.2 734.4L486.8 742.4L492.3 735.7L498.5 730.7L503.8 729.1L509 728.8L515 736L521 743.2L526.4 746.4L532.3 747.4L538.4 752.2L543.7 753.3L549 753L554.9 758.6L560.7 763.4L566.3 759.4L573 758.4L577.8 757.3L583 758.4L589 756L594.8 744.8L600 741.3L606.3 729.9L611.6 727.5L617.2 722.2L623 729.9L628.9 738.1L634.2 743.7L640 753L645.4 757.3L651.5 760.5L656.8 763.1L662 761L668.8 757L674 764L680 767.1L686 767.4L691.4 773.8L696.7 780.4L702.9 785.2L708.7 778L714 775.7L719.4 776.5L725.2 775.4L731.3 776.2L736.7 777.5L742.8 779.1L748 773.8L754 770.6L759.8 767.4L765 769L771.3 765.8L776.6 764.2L782.4 777.8L788 790.3L793.9 798.5L800 791L805.3 781.8L811.2 763.4L816.8 765.8L822 778L828 777.5L833.3 782.8L839 788.4L844.7 791.4L850.6 786.3L855.9 779.1L866.5 778.8L873.2 782L879 783.4L884.6 782.3L890.5 779.4L896.3 781L902 786.3L913 786.8L925 786.3L930.4 780.7L935.7 776.2L941.6 780.7L947 782.3L953 777.3L958.3 773.3L964.2 769L970.3 766.9L975.6 762.1L981 755.4L987 763.4L993 771.4L999 766.3L1005 767.4L1010 769.3L1016 773.3L1021.4 771.9L1027 753.3L1032.9 757.3L1038.2 775.1L1043.5 777.5L1050 771.9L1055.5 769.5L1061.3 768.2L1067 773L1072.8 759.2L1078 733.1L1084 729.6L1089.6 743.2L1095.4 748.2L1100.7 753.3L1106.9 758.9L1112.3 752.2L1118.2 732.3L1123.8 735.7L1129 742.1L1135 743.2L1140.8 741.1L1145.6 740.5L1152.2 745.8L1157.6 745L1169.5 741.9L1174.9 740.3L1181 740L1186.3 746.4L1192.7 745.6L1198.3 749.3L1204 753.8L1209.5 756.8L1214.8 757.3L1220.9 761.8L1226.8 762.6L1232.6 762.9L1237.4 760.5L1243.3 739.2L1249.4 743.2L1255.2 753.6L1260.6 746.4L1266.7 755.2L1272 756.8L1277.9 749L1283.4 751.7L1289.3 749L1294 740.5L1300.5 744.8L1305.8 748.2L1312 752L1317.2 762.3L1323 765.3L1328.7 760L1334 758.1L1339.9 752L1345.7 754.9L1351.3 754.6L1357 747.7L1363.3 747.2L1368.6 753.8L1374 778.3L1379.8 779.9L1385.6 771.7L1391.2 766.9L1396.5 760.5" stroke="#2962ff" stroke-width="1.2" fill="none" stroke-linejoin="round"/>
</g>
<path d="M1436.5 3V832M4 804.5H1500" stroke="#3c3c3c" stroke-width="1" shape-rendering="crispEdges"/>
<path d="M4 687.5H1500M4 717.5H1500" stroke="#e0e3eb" stroke-width="1" shape-rendering="crispEdges"/>
<g style="font-family:'Liberation Sans',sans-serif">
<rect x="12" y="36" width="136" height="27" fill="rgba(255,255,255,0.5)"/>
<rect x="12" y="63" width="539" height="24" fill="rgba(255,255,255,0.5)"/>
<text x="35.5" y="25" font-size="16" fill="#4a4a4a" text-anchor="start" font-weight="normal" textLength="253" lengthAdjust="spacing" >British Pound / U.S. Dollar · 1D · ICE</text>
<path d="M301 13h12l-4 6l4 6h-12z" fill="#f7525f"/>
<circle cx="341" cy="19" r="9" fill="rgba(8,153,129,0.18)"/><circle cx="341" cy="19" r="4" fill="#089981"/>
<text x="366.8" y="24" font-size="12.5" textLength="48" lengthAdjust="spacing"><tspan fill="#555">O</tspan><tspan fill="#2d6a4a">1.2700</tspan></text>
<text x="421.5" y="24" font-size="12.5" textLength="47.1" lengthAdjust="spacing"><tspan fill="#555">H</tspan><tspan fill="#2d6a4a">1.2732</tspan></text>
<text x="475.8" y="24" font-size="12.5" textLength="45.2" lengthAdjust="spacing"><tspan fill="#555">L</tspan><tspan fill="#2d6a4a">1.2687</tspan></text>
<text x="528.5" y="24" font-size="12.5" textLength="46" lengthAdjust="spacing"><tspan fill="#555">C</tspan><tspan fill="#2d6a4a">1.2729</tspan></text>
<text x="582.8" y="24" font-size="12.5" fill="#2d6a4a" text-anchor="start" font-weight="normal" textLength="97.3" lengthAdjust="spacing" >+0.0027 (+0.21%)</text>
<circle cx="25.3" cy="15.3" r="5.8" fill="#fff"/>
<g><clipPath id="us"><circle cx="25.3" cy="15.3" r="5.6"/></clipPath><g clip-path="url(#us)"><rect x="19" y="9" width="13" height="13" fill="#fff"/><path d="M19 10.6h13M19 13.4h13M19 16.2h13M19 19h13" stroke="#e8474f" stroke-width="1.4"/><rect x="19" y="9" width="7" height="7" fill="#5078c8"/></g></g>
<circle cx="18.9" cy="22" r="6.9" fill="#fff"/>
<g><clipPath id="uk"><circle cx="18.9" cy="22" r="5.9"/></clipPath><g clip-path="url(#uk)"><rect x="12" y="15" width="14" height="14" fill="#2a55b5"/><path d="M12 15l14 14M26 15l-14 14" stroke="#fff" stroke-width="2.6"/><path d="M12 15l14 14M26 15l-14 14" stroke="#e04050" stroke-width="1"/><path d="M18.9 15v14M12 22h14" stroke="#fff" stroke-width="4"/><path d="M18.9 15v14M12 22h14" stroke="#e04050" stroke-width="2.2"/></g></g>
<rect x="12.5" y="35.5" width="54" height="23" rx="4" fill="#fff" stroke="#f23645" stroke-width="1"/>
<text x="20.6" y="51.3" font-size="12" fill="#f23645" text-anchor="start" font-weight="normal" textLength="37.7" lengthAdjust="spacing" >1.2728</text>
<rect x="89.5" y="35.5" width="54" height="23" rx="4" fill="#fff" stroke="#2962ff" stroke-width="1"/>
<text x="97.8" y="51.3" font-size="12" fill="#2962ff" text-anchor="start" font-weight="normal" textLength="37.7" lengthAdjust="spacing" >1.2729</text>
<text x="68" y="46.5" font-size="11" fill="#c4c6cc" text-anchor="start" font-weight="normal" >128</text>
<text x="75.5" y="51" font-size="10" fill="#666" text-anchor="start" font-weight="bold" >1</text>
<text x="13.3" y="79.3" font-size="12" fill="#555" text-anchor="start" font-weight="normal" textLength="382.4" lengthAdjust="spacing" >MA Ribbon SMA close 20 SMA close 50 SMA close 100 SMA close 200</text>
<text x="405.2" y="79.3" font-size="12" fill="#f23645" text-anchor="start" font-weight="normal" textLength="37.4" lengthAdjust="spacing" >1.2713</text>
<text x="450.5" y="79.3" font-size="12" fill="#2962ff" text-anchor="start" font-weight="normal" textLength="37.3" lengthAdjust="spacing" >1.2644</text>
<text x="494.3" y="79.3" font-size="12" fill="#444" text-anchor="start" font-weight="normal" >∅</text>
<text x="508.6" y="79.3" font-size="12" fill="#222" text-anchor="start" font-weight="normal" textLength="37.4" lengthAdjust="spacing" >1.2551</text>
<rect x="13.5" y="89.5" width="28" height="20" rx="3" fill="#fff" stroke="#d9dbe0" stroke-width="1"/>
<path d="M23.5 101.5l4 -4l4 4" stroke="#222" stroke-width="1.4" fill="none"/>
<rect x="12" y="694" width="118" height="20" fill="rgba(255,255,255,0.5)"/>
<text x="13" y="709.3" font-size="12" fill="#555" text-anchor="start" font-weight="normal" textLength="66.5" lengthAdjust="spacing" >ATR 14 RMA</text>
<text x="88.5" y="709.3" font-size="12" fill="#b92b2b" text-anchor="start" font-weight="normal" textLength="39" lengthAdjust="spacing" >0.0080</text>
<rect x="12" y="724" width="146" height="20" fill="rgba(255,255,255,0.5)"/>
<text x="13" y="739.3" font-size="12" fill="#555" text-anchor="start" font-weight="normal" textLength="101.4" lengthAdjust="spacing" >CCI 20 hlc3 SMA 5</text>
<text x="124" y="739.3" font-size="12" fill="#2962ff" text-anchor="start" font-weight="normal" textLength="31" lengthAdjust="spacing" >12.25</text>
<g stroke="#fff" stroke-width="2" stroke-linejoin="round"><path d="M16 775h11.8v15h-5.7v-9.2h-6.1z" fill="#131722"/><circle cx="32.9" cy="778" r="2.8" fill="#131722"/><path d="M37.2 775h8.1l-5.4 15h-6.4z" fill="#131722"/></g>
<path d="M16 775h11.8v15h-5.7v-9.2h-6.1z" fill="#131722"/><circle cx="32.9" cy="778" r="2.8" fill="#131722"/><path d="M37.2 775h8.1l-5.4 15h-6.4z" fill="#131722"/>
<g style="font-family:'Liberation Sans',sans-serif;font-weight:bold;font-style:italic" font-size="32.5">
<text transform="translate(1269.7,831.2) scale(1.13,1)" fill="#7488d0" fill-opacity="0.8">z</text>
<text transform="translate(1296.2,831.2) scale(1.13,1)" fill="#7488d0" fill-opacity="0.8">z</text>
<text transform="translate(1323.7,831.2) scale(1.13,1)" fill="#7488d0" fill-opacity="0.8">r</text>
<text transform="translate(1348.2,831.2) scale(1.13,1)" fill="#7488d0" fill-opacity="0.8">t</text>
<text transform="translate(1368.2,831.2) scale(1.13,1)" fill="#7488d0" fill-opacity="0.8">0</text>
<text transform="translate(1400.7,831.2) scale(1.13,1)" fill="#7488d0" fill-opacity="0.8">1</text>
<text transform="translate(1427.2,831.2) scale(1.13,1)" fill="#7488d0" fill-opacity="0.8">.</text>
<text transform="translate(1446.7,831.2) scale(1.13,1)" fill="#7488d0" fill-opacity="0.8">c</text>
<text transform="translate(1472.2,831.2) scale(1.13,1)" fill="#7488d0" fill-opacity="0.8">n</text>
<text transform="translate(1268,829.6) scale(1.13,1)" fill="#8cbcfa" fill-opacity="0.95">z</text>
<text transform="translate(1294.5,829.6) scale(1.13,1)" fill="#8cbcfa" fill-opacity="0.95">z</text>
<text transform="translate(1322,829.6) scale(1.13,1)" fill="#8cbcfa" fill-opacity="0.95">r</text>
<text transform="translate(1346.5,829.6) scale(1.13,1)" fill="#8cbcfa" fill-opacity="0.95">t</text>
<text transform="translate(1366.5,829.6) scale(1.13,1)" fill="#8cbcfa" fill-opacity="0.95">0</text>
<text transform="translate(1399,829.6) scale(1.13,1)" fill="#8cbcfa" fill-opacity="0.95">1</text>
<text transform="translate(1425.5,829.6) scale(1.13,1)" fill="#8cbcfa" fill-opacity="0.95">.</text>
<text transform="translate(1445,829.6) scale(1.13,1)" fill="#8cbcfa" fill-opacity="0.95">c</text>
<text transform="translate(1470.5,829.6) scale(1.13,1)" fill="#8cbcfa" fill-opacity="0.95">n</text>
</g>
<text x="71" y="822" font-size="12" fill="#555" text-anchor="middle" font-weight="normal" >Mar</text>
<text x="202" y="822" font-size="12" fill="#555" text-anchor="middle" font-weight="normal" >Apr</text>
<text x="316" y="822" font-size="12" fill="#555" text-anchor="middle" font-weight="normal" >May</text>
<text x="447" y="822" font-size="12" fill="#555" text-anchor="middle" font-weight="normal" >Jun</text>
<text x="572" y="822" font-size="12" fill="#555" text-anchor="middle" font-weight="normal" >Jul</text>
<text x="691" y="822" font-size="12" fill="#555" text-anchor="middle" font-weight="normal" >Aug</text>
<text x="822" y="822" font-size="12" fill="#555" text-anchor="middle" font-weight="normal" >Sep</text>
<text x="942" y="822" font-size="12" fill="#555" text-anchor="middle" font-weight="normal" >Oct</text>
<text x="1067" y="822" font-size="12" fill="#555" text-anchor="middle" font-weight="normal" >Nov</text>
<text x="1192" y="822" font-size="12" fill="#555" text-anchor="middle" font-weight="normal" >Dec</text>
<text x="1311" y="822" font-size="12" fill="#555" text-anchor="middle" font-weight="normal" >2024</text>
<text x="1444.8" y="663.5" font-size="12" fill="#555" text-anchor="start" font-weight="normal" textLength="35" lengthAdjust="spacing" >1.2000</text>
<text x="1444.8" y="610.3" font-size="12" fill="#555" text-anchor="start" font-weight="normal" textLength="35" lengthAdjust="spacing" >1.2100</text>
<text x="1444.8" y="557.1" font-size="12" fill="#555" text-anchor="start" font-weight="normal" textLength="35" lengthAdjust="spacing" >1.2200</text>
<text x="1444.8" y="450.7" font-size="12" fill="#555" text-anchor="start" font-weight="normal" textLength="35" lengthAdjust="spacing" >1.2400</text>
<text x="1444.8" y="397.5" font-size="12" fill="#555" text-anchor="start" font-weight="normal" textLength="35" lengthAdjust="spacing" >1.2500</text>
<text x="1444.8" y="344.3" font-size="12" fill="#555" text-anchor="start" font-weight="normal" textLength="35" lengthAdjust="spacing" >1.2600</text>
<text x="1444.8" y="291.1" font-size="12" fill="#555" text-anchor="start" font-weight="normal" textLength="35" lengthAdjust="spacing" >1.2700</text>
<text x="1444.8" y="237.9" font-size="12" fill="#555" text-anchor="start" font-weight="normal" textLength="35" lengthAdjust="spacing" >1.2800</text>
<text x="1444.8" y="184.7" font-size="12" fill="#555" text-anchor="start" font-weight="normal" textLength="35" lengthAdjust="spacing" >1.2900</text>
<text x="1444.8" y="131.5" font-size="12" fill="#555" text-anchor="start" font-weight="normal" textLength="35" lengthAdjust="spacing" >1.3000</text>
<text x="1444.8" y="78.3" font-size="12" fill="#555" text-anchor="start" font-weight="normal" textLength="35" lengthAdjust="spacing" >1.3100</text>
<text x="1444.8" y="707.8" font-size="12" fill="#555" text-anchor="start" font-weight="normal" textLength="35" lengthAdjust="spacing" >0.0100</text>
<text x="1444.8" y="736.8" font-size="12" fill="#555" text-anchor="start" font-weight="normal" textLength="35" lengthAdjust="spacing" >200.00</text>
<text x="1455.3" y="767" font-size="12" fill="#555" text-anchor="start" font-weight="normal" textLength="24.5" lengthAdjust="spacing" >0.00</text>
<text x="1440.5" y="797.5" font-size="12" fill="#555" text-anchor="start" font-weight="normal" textLength="42" lengthAdjust="spacing" >−200.00</text>
<path d="M1437 263.3h57a2 2 0 0 1 2 2v12.7a2 2 0 0 1 -2 2h-57z" fill="#5f9f7b"/>
<text x="1443.7" y="276.3" font-size="12" fill="#dcece2" text-anchor="start" font-weight="bold" textLength="46.8" lengthAdjust="spacing" >06:41:14</text>
<path d="M1437 42h46a2 2 0 0 1 2 2v13a2 2 0 0 1 -2 2h-46z" fill="#000"/>
<text x="1444.6" y="54.9" font-size="12" fill="#fff" text-anchor="start" font-weight="bold" textLength="35.2" lengthAdjust="spacing" >1.3143</text>
<path d="M1437 246h46a2 2 0 0 1 2 2v13a2 2 0 0 1 -2 2h-46z" fill="#000"/>
<text x="1444.6" y="258.9" font-size="12" fill="#fff" text-anchor="start" font-weight="bold" textLength="35.2" lengthAdjust="spacing" >1.2742</text>
<path d="M1437 296.2h46a2 2 0 0 1 2 2v13a2 2 0 0 1 -2 2h-46z" fill="#000"/>
<text x="1444.6" y="309.1" font-size="12" fill="#fff" text-anchor="start" font-weight="bold" textLength="35.2" lengthAdjust="spacing" >1.2667</text>
<path d="M1437 359.5h46a2 2 0 0 1 2 2v13a2 2 0 0 1 -2 2h-46z" fill="#000"/>
<text x="1444.6" y="372.4" font-size="12" fill="#fff" text-anchor="start" font-weight="bold" textLength="35.2" lengthAdjust="spacing" >1.2547</text>
<path d="M1437 447.5h46a2 2 0 0 1 2 2v13a2 2 0 0 1 -2 2h-46z" fill="#000"/>
<text x="1444.6" y="460.4" font-size="12" fill="#fff" text-anchor="start" font-weight="bold" textLength="35.2" lengthAdjust="spacing" >1.2381</text>
<path d="M1437 489.5h46a2 2 0 0 1 2 2v13a2 2 0 0 1 -2 2h-46z" fill="#000"/>
<text x="1444.6" y="502.4" font-size="12" fill="#fff" text-anchor="start" font-weight="bold" textLength="35.2" lengthAdjust="spacing" >1.2303</text>
<rect x="1440.5" y="7.5" width="55" height="25" rx="3" fill="#fff" stroke="#e0e3eb" stroke-width="1"/>
<text x="1444.8" y="24.3" font-size="12" fill="#222" textLength="19.8" lengthAdjust="spacingAndGlyphs">USD</text>
<path d="M1486.3 19.2l2.4 2.4l2.4 -2.4" stroke="#222" stroke-width="1.3" fill="none"/>
<path d="M1465.6 813h6.6l3.4 6l-3.4 6h-6.6l-3.4 -6z" fill="none" stroke="#222" stroke-width="1.2"/><circle cx="1468.9" cy="819" r="1.8" fill="none" stroke="#222" stroke-width="1.2"/>
</g>
<g filter="url(#sh)" opacity="0.9">
<g transform="translate(1265,740.5) skewX(-11) scale(0.52,0.565)"><path d="M24 4L36 24M6 40H30L16 80M4 78L18 96H98M44 12H104M70 2L64 12M50 12V78H98V12M50 45H98" fill="none" stroke="#fff" stroke-width="7.4" vector-effect="non-scaling-stroke" stroke-linecap="butt" stroke-linejoin="miter"/></g>
<g transform="translate(1327,740.5) skewX(-11) scale(0.52,0.565)"><path d="M16 12H82L76 52M32 12L26 52M22 52H94L86 96H58M2 76H72" fill="none" stroke="#fff" stroke-width="7.4" vector-effect="non-scaling-stroke" stroke-linecap="butt" stroke-linejoin="miter"/></g>
<g transform="translate(1384.5,740.5) skewX(-11) scale(0.52,0.565)"><path d="M10 10H46V70M10 4V70M28 22V60L4 98M30 70L48 98M52 32H102M82 2V96L66 90M80 36L50 84" fill="none" stroke="#fff" stroke-width="7.4" vector-effect="non-scaling-stroke" stroke-linecap="butt" stroke-linejoin="miter"/></g>
<g transform="translate(1446.5,740.5) skewX(-11) scale(0.52,0.565)"><path d="M34 2L10 36H36L8 70H40M2 94L42 82M46 12H96L60 50M60 24L100 52M52 64H98M75 64V96M44 96H102" fill="none" stroke="#fff" stroke-width="7.4" vector-effect="non-scaling-stroke" stroke-linecap="butt" stroke-linejoin="miter"/></g>
</g>
</svg>
</body></html>
